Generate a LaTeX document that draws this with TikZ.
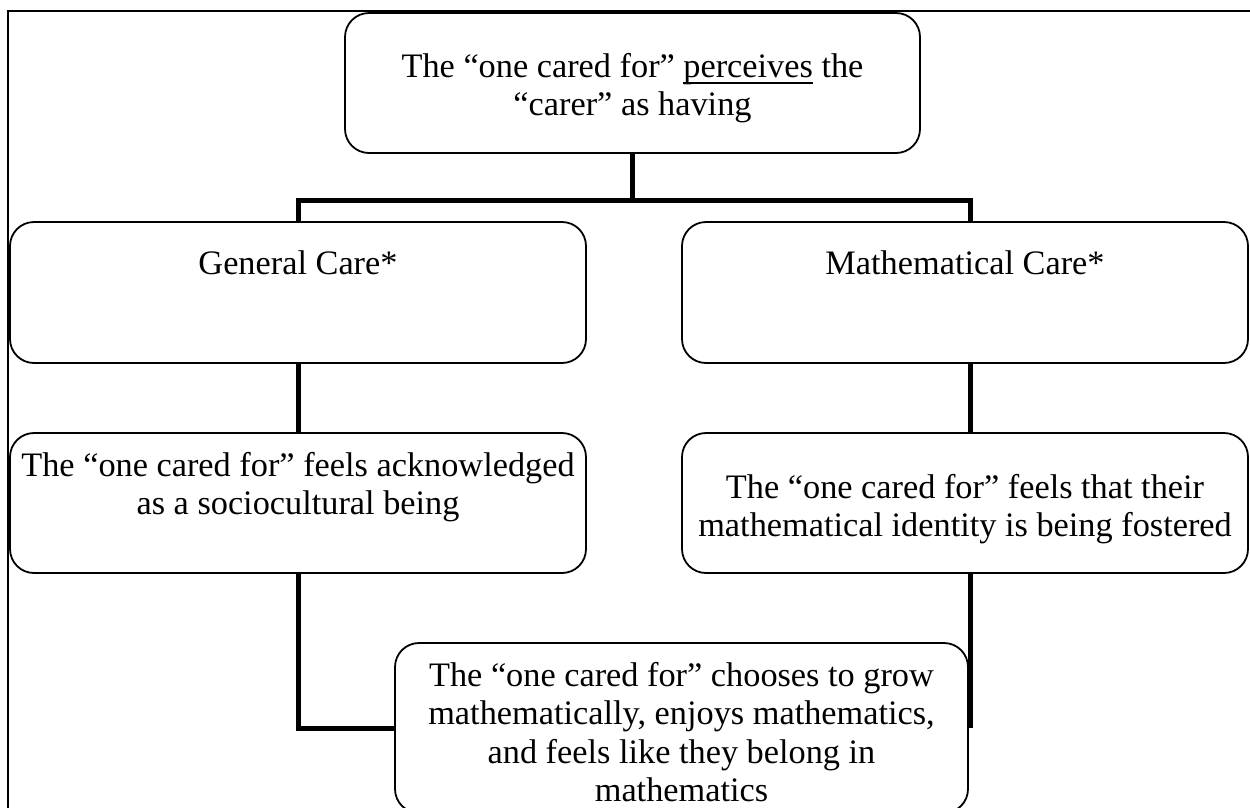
\documentclass[tikz,border=0pt]{standalone}
\usepackage{fontspec}
\setmainfont{Liberation Serif}
\usetikzlibrary{positioning}

\newsavebox{\ulbox}
\newcommand{\ulword}[1]{\sbox{\ulbox}{#1}\rlap{\rule[-6.5pt]{\wd\ulbox}{1.6pt}}\usebox{\ulbox}}

\begin{document}
\begin{tikzpicture}[x=1pt, y=-1pt,
  cbox/.style={rectangle, rounded corners=24pt, draw=black, line width=1.8pt, inner sep=0pt, outer sep=0pt},
  ctext/.style={font=\fontsize{34.3}{38.5}\selectfont, align=center, inner sep=0pt, anchor=north},
  link/.style={line width=5pt, line join=miter},
  node distance = 70pt]
  \useasboundingbox (0,0) rectangle (1250,807);
  \draw[line width=1.5pt] (8,11) rectangle (1270,830);

  \node[cbox, minimum width=575pt, minimum height=140pt,
        label={[ctext, yshift=-40pt]north:The “one cared for” \ulword{perceives} the\\“carer” as having}] (perceive) at (632.5,83) {};
  \node[cbox, minimum width=576pt, minimum height=141pt,
        label={[ctext, yshift=-28pt]north:General Care*}] (gcare) at (298,292.5) {};
  \node[cbox, minimum width=566pt, minimum height=141pt,
        label={[ctext, yshift=-28pt]north:Mathematical Care*}] (mcare) [right = 96pt of gcare] {};
  \node[cbox, minimum width=576pt, minimum height=140pt,
        label={[ctext, yshift=-19pt]north:The “one cared for” feels acknowledged\\as a sociocultural being}] (gcare2) [below = of gcare] {};
  \node[cbox, minimum width=566pt, minimum height=140pt,
        label={[ctext, yshift=-41pt]north:The “one cared for” feels that their\\mathematical identity is being fostered}] (mcare2) [below = of mcare] {};
  \node[cbox, minimum width=573pt, minimum height=170pt,
        label={[ctext, yshift=-19pt]north:The “one cared for” chooses to grow\\mathematically, enjoys mathematics,\\and feels like they belong in\\mathematics}] (result) at (681.5,728) {};

  \draw[link] (perceive.south) -- ++(0,47) coordinate (fork);
  \draw[link] (gcare.north) |- (fork) -| ([xshift=5pt]mcare.north);
  \draw[link] (gcare.south) -- (gcare2.north);
  \draw[link] ([xshift=5pt]mcare.south) -- ([xshift=5pt]mcare2.north);
  \draw[link] (gcare2.south) |- (result.west);
  \draw[link] ([xshift=5pt]mcare2.south) -- ([xshift=5pt]mcare2.south |- result.east);
\end{tikzpicture}
\end{document}
